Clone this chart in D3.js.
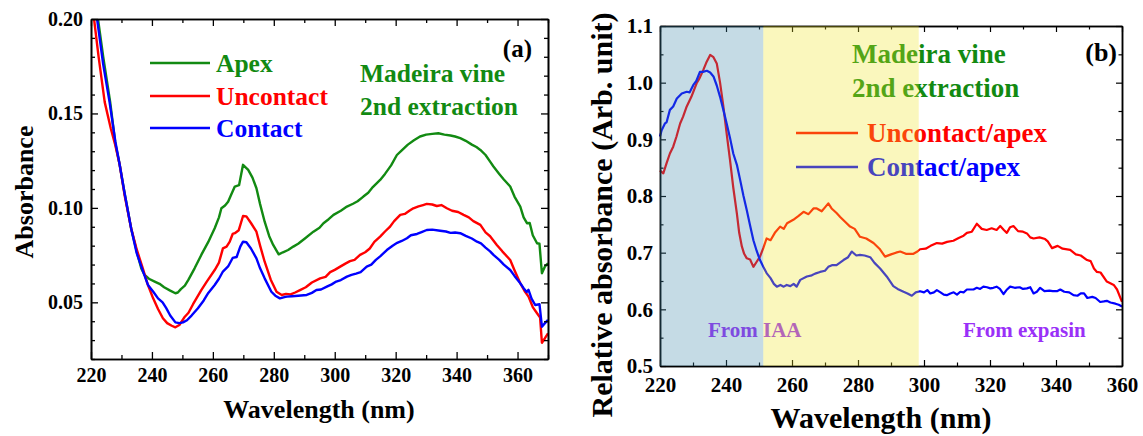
<!DOCTYPE html>
<html><head><meta charset="utf-8">
<script src="https://cdn.jsdelivr.net/npm/d3@7"></script>
<style>
html,body{margin:0;padding:0;background:#fff;}
svg text{font-family:"Liberation Serif","Times New Roman",serif;font-weight:bold;}
</style></head>
<body><svg id="chart" width="1143" height="436"></svg>
<script>
// ---------- DATA ----------
// Panel (a): absorbance spectra [wavelength nm, absorbance]
const apex = [[220,0.225],[222.3,0.2],[224,0.18],[226.3,0.156],[228,0.134],[229.4,0.123],[231,0.108],[233.2,0.089],[235,0.077],[236.5,0.068],[237.6,0.0645],[239,0.0625],[240.9,0.061],[242.5,0.0598],[244,0.058],[246,0.0562],[247.7,0.0548],[248.5,0.0552],[249.5,0.057],[250.8,0.0588],[252,0.062],[254,0.068],[256.2,0.0751],[258.5,0.082],[260.6,0.0892],[262,0.095],[262.8,0.0998],[264,0.1013],[265,0.1033],[266,0.107],[267.2,0.1113],[268.6,0.112],[269.9,0.1228],[271.6,0.1201],[273,0.116],[274.3,0.1104],[275.5,0.102],[277,0.0927],[278.5,0.085],[279.8,0.0804],[281.6,0.0754],[283,0.0765],[284.7,0.0777],[286.4,0.0795],[288,0.081],[290,0.0835],[293,0.0874],[295,0.0895],[296.3,0.0919],[298,0.094],[299.6,0.0963],[302,0.0985],[304,0.1007],[306,0.1022],[307.5,0.1035],[309.4,0.106],[311,0.108],[312.5,0.111],[314.9,0.1148],[316.5,0.118],[318.5,0.1225],[320.4,0.128],[322,0.1305],[324,0.1335],[326,0.1358],[328,0.1378],[330,0.1388],[332,0.1392],[334,0.1395],[336,0.1388],[338,0.1383],[339.5,0.1378],[341.2,0.1369],[343,0.1355],[345,0.1335],[346.5,0.1322],[347.8,0.1307],[349.5,0.128],[351,0.1245],[352.1,0.1219],[354,0.118],[355.5,0.115],[357.6,0.1113],[359,0.106],[360.9,0.1007],[362,0.095],[363.1,0.0919],[364,0.092],[365,0.0855],[366.4,0.0813],[367.2,0.081],[368,0.0654],[369,0.069],[370,0.0707]];
const uncontact = [[220,0.215],[221,0.2],[222.5,0.18],[224.5,0.156],[226.5,0.142],[228,0.133],[229.4,0.123],[231,0.107],[233.2,0.089],[235,0.078],[237,0.068],[238.5,0.06],[240.4,0.0521],[242,0.0465],[243.6,0.0416],[245,0.039],[246.5,0.0376],[247.7,0.0368],[249,0.038],[250.8,0.0424],[252,0.0445],[253.5,0.049],[256.2,0.0565],[258,0.061],[260.6,0.0671],[262,0.071],[263.3,0.0786],[264.5,0.0795],[265.5,0.082],[266.5,0.0862],[267.2,0.0866],[268.5,0.0882],[269.9,0.0957],[271,0.0955],[272.5,0.092],[274.3,0.0874],[275.5,0.08],[277,0.0715],[279,0.062],[280.9,0.0556],[282.6,0.0539],[284,0.0545],[285.5,0.0542],[287,0.0552],[288.6,0.0565],[290.5,0.058],[292.5,0.0605],[295.2,0.0627],[297,0.0635],[298.5,0.066],[300,0.0672],[301.8,0.0689],[303.5,0.0705],[305,0.0718],[306.5,0.0725],[308.3,0.0751],[310,0.0765],[311.5,0.0785],[313,0.082],[314.9,0.0848],[316.5,0.0875],[318,0.0898],[319.5,0.093],[321.5,0.0963],[323,0.0968],[324.5,0.0985],[325.8,0.0998],[327.5,0.1008],[329,0.1015],[330.2,0.1021],[332,0.1018],[333.5,0.101],[335,0.1015],[336.8,0.0998],[338.5,0.0985],[340.5,0.0978],[342.3,0.0963],[344,0.095],[345.5,0.093],[347.8,0.091],[349.5,0.087],[351,0.085],[353.2,0.0804],[355,0.077],[357.6,0.0724],[359,0.067],[360.9,0.0601],[362.3,0.056],[363.6,0.053],[365,0.0475],[366.4,0.0442],[367.4,0.042],[368,0.0286],[369,0.031],[370,0.0336]];
const contact = [[220,0.22],[222,0.2],[224,0.176],[226.1,0.156],[228,0.135],[229.4,0.123],[231,0.108],[233.2,0.089],[235,0.076],[237.1,0.0663],[238.7,0.0592],[240.5,0.0555],[242,0.0521],[243.5,0.05],[244.7,0.0469],[246,0.043],[247.7,0.0394],[249,0.039],[250.2,0.0394],[251.5,0.0405],[253,0.043],[255.1,0.0469],[257,0.051],[258.5,0.055],[260.6,0.0592],[262,0.0625],[263.3,0.0663],[265,0.069],[266.5,0.0735],[267.8,0.074],[269,0.0795],[269.9,0.0821],[271,0.0818],[272.5,0.0785],[274.3,0.0733],[275.5,0.068],[277,0.0627],[279.2,0.0556],[280.5,0.0535],[282,0.0521],[283.5,0.0528],[284.3,0.053],[286,0.0532],[288,0.0535],[290.8,0.0539],[292.5,0.055],[294,0.0565],[295.5,0.0568],[297.4,0.0583],[299,0.0595],[300.5,0.061],[302,0.0618],[304,0.0636],[305.5,0.0645],[307,0.0652],[308.5,0.066],[310.5,0.0689],[312,0.07],[313.5,0.0725],[315,0.0745],[317.1,0.0777],[319,0.08],[320.5,0.0815],[322,0.0825],[323.7,0.0839],[325,0.0855],[327,0.0862],[328.5,0.0872],[330.2,0.0883],[332,0.0885],[334.6,0.0879],[336.5,0.0875],[338,0.0868],[339.5,0.087],[341.2,0.0866],[343,0.0852],[345,0.0838],[346.7,0.0821],[348,0.0812],[349.5,0.079],[351,0.077],[352.1,0.0751],[354,0.0725],[355.5,0.07],[357.6,0.0671],[359,0.064],[360.9,0.0601],[362,0.0575],[363,0.0555],[363.6,0.0566],[364.6,0.052],[365.8,0.0486],[367.2,0.049],[368,0.0371],[369,0.039],[370,0.0407]];

// Panel (b): relative absorbance [wavelength nm, ratio]
const uncontactRatio = [[220,0.845],[221,0.84],[222,0.858],[223,0.875],[224,0.887],[225,0.905],[226.1,0.928],[227,0.94],[228.1,0.958],[229.5,0.975],[231.1,0.999],[232,1.008],[233.1,1.022],[234,1.035],[235.2,1.049],[236.2,1.045],[237.2,1.034],[238.2,1.0],[239.2,0.958],[240.2,0.91],[241.2,0.864],[242.2,0.815],[243.3,0.769],[244,0.735],[244.8,0.711],[245.5,0.698],[246.3,0.69],[247.3,0.688],[248.3,0.675],[249.3,0.684],[250.3,0.693],[251.3,0.708],[252.3,0.725],[253.5,0.722],[254.8,0.735],[256.4,0.746],[257.5,0.742],[258.5,0.752],[260.4,0.758],[262,0.765],[263.5,0.772],[265,0.768],[266.5,0.778],[267.5,0.778],[269,0.773],[270,0.78],[271,0.787],[272,0.778],[273.5,0.77],[274.6,0.763],[276,0.755],[277.6,0.746],[279,0.742],[280.6,0.728],[282.5,0.725],[284.7,0.717],[286.5,0.707],[288.2,0.693],[290,0.697],[291.5,0.7],[292.8,0.702],[294.5,0.698],[296.8,0.698],[298,0.702],[298.8,0.706],[300.5,0.707],[302,0.712],[303.9,0.717],[305.5,0.716],[307,0.719],[308.9,0.721],[310.5,0.726],[312,0.73],[313,0.735],[314.5,0.737],[316,0.751],[317.5,0.742],[319,0.74],[320.5,0.743],[322,0.74],[323.1,0.747],[324.2,0.74],[325.1,0.735],[326.1,0.745],[327.1,0.747],[328.5,0.738],[330,0.737],[331.2,0.734],[332.2,0.727],[333.2,0.725],[335,0.727],[336.7,0.724],[337.5,0.72],[338.8,0.708],[340.5,0.712],[342,0.707],[344.3,0.705],[346,0.697],[347.5,0.695],[349.4,0.687],[350.5,0.685],[351.5,0.672],[352.4,0.666],[353.5,0.665],[355.4,0.649],[357.5,0.643],[358.5,0.635],[360,0.613]];
const contactRatio = [[220,0.905],[220.5,0.916],[221.5,0.928],[222,0.93],[223,0.952],[224,0.958],[225.1,0.972],[226.6,0.981],[228.1,0.984],[229,0.983],[230.1,0.996],[231,1.003],[232.1,1.019],[233,1.019],[234.2,1.021],[235.2,1.018],[236.2,1.011],[237.2,0.995],[238.2,0.975],[239.2,0.952],[240.2,0.928],[241.2,0.903],[242.2,0.875],[243.3,0.855],[244.3,0.828],[245.3,0.8],[246.3,0.775],[247.3,0.748],[248.3,0.722],[249.3,0.703],[250.3,0.687],[251.3,0.675],[252.3,0.664],[253.5,0.655],[254.5,0.645],[255.4,0.64],[256.5,0.643],[257.5,0.64],[258.4,0.643],[259.5,0.641],[260.5,0.645],[261.4,0.64],[262.5,0.652],[264.5,0.658],[266,0.66],[267,0.663],[268.5,0.666],[270,0.668],[271,0.675],[272.1,0.678],[273.5,0.678],[275.6,0.687],[277,0.692],[278.1,0.702],[279.5,0.695],[280.6,0.696],[282,0.695],[283.7,0.692],[285,0.682],[286.7,0.672],[288.7,0.658],[290.7,0.641],[292,0.636],[293.8,0.631],[295,0.628],[296.3,0.624],[297.5,0.63],[298.8,0.632],[300,0.63],[301,0.634],[301.9,0.628],[303,0.63],[303.9,0.634],[305,0.63],[306,0.626],[306.9,0.625],[308,0.628],[309,0.63],[310,0.626],[311,0.631],[312,0.63],[313,0.635],[315,0.635],[316,0.638],[317,0.636],[318,0.64],[319.1,0.639],[320.1,0.637],[321,0.638],[322,0.64],[323,0.636],[324.1,0.627],[325,0.634],[326.1,0.64],[327.5,0.638],[329,0.639],[330,0.636],[331.2,0.637],[332.2,0.639],[333.2,0.628],[334.2,0.631],[335.2,0.638],[336.5,0.632],[338,0.633],[339,0.632],[340.3,0.632],[341.3,0.635],[342.5,0.631],[344,0.63],[345.3,0.625],[346.5,0.624],[347.5,0.628],[348.5,0.628],[349.5,0.62],[351,0.622],[352,0.62],[353.4,0.613],[354.5,0.614],[355.4,0.615],[356.5,0.612],[358,0.61],[359,0.608],[360,0.605]];

// shaded wavelength bands in panel (b)
const bandIAA = [220, 251.3];
const bandExpansin = [251.3, 298.4];

// tick values
const aXMajor = [220,240,260,280,300,320,340,360];
const aXMinor = [230,250,270,290,310,330,350,370];
const aYMajor = [0.05,0.10,0.15,0.20];
const aYMinor = [0.02,0.03,0.04,0.06,0.07,0.08,0.09,0.11,0.12,0.13,0.14,0.16,0.17,0.18,0.19];
const bXMajor = [220,240,260,280,300,320,340,360];
const bXMinor = [230,250,270,290,310,330,350];
const bYMajor = [0.5,0.6,0.7,0.8,0.9,1.0,1.1];
const bYMinor = [0.55,0.65,0.75,0.85,0.95,1.05];

// ---------- DRAW ----------
const GREEN = "#128a12", RED = "#ff0000", BLUE = "#0000ff";
const svg = d3.select("#chart");

const xa = d3.scaleLinear().domain([220,370]).range([91,548]);
const ya = d3.scaleLinear().domain([0.02,0.20]).range([359,19]);
const xb = d3.scaleLinear().domain([220,360]).range([660,1122]);
const yb = d3.scaleLinear().domain([0.5,1.1]).range([366,26]);

function frame(g, x, y, o){
  const [x0,x1] = x.range(), [y0,y1] = y.range();
  const styleAxis = sel => { sel.selectAll("path.domain").attr("stroke","#000").attr("stroke-width",o.sw);
    sel.selectAll(".tick line").attr("stroke","#000").attr("stroke-width",o.tw); };
  // bottom
  g.append("g").attr("transform",`translate(0,${y0})`).call(d3.axisBottom(x).tickValues(o.xMinor).tickSizeInner(-o.minor).tickSizeOuter(0).tickFormat("")).call(styleAxis);
  const bx = g.append("g").attr("transform",`translate(0,${y0})`).call(d3.axisBottom(x).tickValues(o.xMajor).tickSizeInner(-o.major).tickSizeOuter(0).tickPadding(o.xPad).tickFormat(d3.format("d"))).call(styleAxis);
  bx.selectAll("text").attr("font-size",o.fs).attr("fill","#000").attr("font-family",null);
  // top
  g.append("g").attr("transform",`translate(0,${y1})`).call(d3.axisTop(x).tickValues(o.xMinor).tickSizeInner(-o.minor).tickSizeOuter(0).tickFormat("")).call(styleAxis);
  g.append("g").attr("transform",`translate(0,${y1})`).call(d3.axisTop(x).tickValues(o.xMajor).tickSizeInner(-o.major).tickSizeOuter(0).tickFormat("")).call(styleAxis);
  // left
  g.append("g").attr("transform",`translate(${x0},0)`).call(d3.axisLeft(y).tickValues(o.yMinor).tickSizeInner(-o.minor).tickSizeOuter(0).tickFormat("")).call(styleAxis);
  const ly = g.append("g").attr("transform",`translate(${x0},0)`).call(d3.axisLeft(y).tickValues(o.yMajor).tickSizeInner(-o.major).tickSizeOuter(0).tickPadding(o.yPad).tickFormat(d3.format(o.yFmt))).call(styleAxis);
  ly.selectAll("text").attr("font-size",o.fs).attr("fill","#000").attr("font-family",null);
  // right
  g.append("g").attr("transform",`translate(${x1},0)`).call(d3.axisRight(y).tickValues(o.yMinor).tickSizeInner(-o.minor).tickSizeOuter(0).tickFormat("")).call(styleAxis);
  g.append("g").attr("transform",`translate(${x1},0)`).call(d3.axisRight(y).tickValues(o.yMajor).tickSizeInner(-o.major).tickSizeOuter(0).tickFormat("")).call(styleAxis);
}

// ===== Panel (a) =====
const ga = svg.append("g");
ga.append("clipPath").attr("id","clipA").append("rect")
  .attr("x",xa(220)).attr("y",ya(0.20)).attr("width",xa(370)-xa(220)).attr("height",ya(0.02)-ya(0.20));
const lineA = d3.line().x(d=>xa(d[0])).y(d=>ya(d[1]));
[[apex,GREEN],[uncontact,RED],[contact,BLUE]].forEach(([data,c])=>{
  ga.append("path").datum(data).attr("d",lineA).attr("fill","none").attr("stroke",c)
    .attr("stroke-width",2.4).attr("stroke-linejoin","round").attr("clip-path","url(#clipA)");
});
frame(ga, xa, ya, {xMajor:aXMajor,xMinor:aXMinor,yMajor:aYMajor,yMinor:aYMinor,major:7,minor:4,sw:1.6,tw:1.3,fs:"20px",xPad:9,yPad:8,yFmt:".2f"});

// legend (a)
[["Apex",GREEN,63],["Uncontact",RED,96],["Contact",BLUE,128]].forEach(([t,c,yy])=>{
  ga.append("line").attr("x1",150).attr("x2",210).attr("y1",yy).attr("y2",yy).attr("stroke",c).attr("stroke-width",2.6);
  ga.append("text").attr("x",216).attr("y",yy+8.5).attr("fill",c).attr("font-size","25.5px").text(t);
});
ga.append("text").attr("x",360).attr("y",81.5).attr("fill",GREEN).attr("font-size","25.5px").text("Madeira vine");
ga.append("text").attr("x",360).attr("y",115).attr("fill",GREEN).attr("font-size","25.5px").text("2nd extraction");
ga.append("text").attr("x",532).attr("y",56.5).attr("text-anchor","end").attr("fill","#000").attr("font-size","25px").text("(a)");
ga.append("text").attr("transform","translate(33,192) rotate(-90)").attr("text-anchor","middle").attr("font-size","26px").attr("fill","#000").text("Absorbance");
ga.append("text").attr("x",319).attr("y",418).attr("text-anchor","middle").attr("font-size","26px").attr("fill","#000").text("Wavelength (nm)");

// ===== Panel (b) =====
const gb = svg.append("g");
const lineB = d3.line().x(d=>xb(d[0])).y(d=>yb(d[1]));
[[uncontactRatio,RED],[contactRatio,BLUE]].forEach(([data,c])=>{
  gb.append("path").datum(data).attr("d",lineB).attr("fill","none").attr("stroke",c)
    .attr("stroke-width",2.2).attr("stroke-linejoin","round");
});
frame(gb, xb, yb, {xMajor:bXMajor,xMinor:bXMinor,yMajor:bYMajor,yMinor:bYMinor,major:6,minor:3.5,sw:1.5,tw:1.2,fs:"21px",xPad:11,yPad:7,yFmt:".1f"});

gb.append("text").attr("x",852).attr("y",63).attr("fill",GREEN).attr("font-size","27px").text("Madeira vine");
gb.append("text").attr("x",852).attr("y",97).attr("fill",GREEN).attr("font-size","27px").text("2nd extraction");
gb.append("text").attr("x",1117).attr("y",61).attr("text-anchor","end").attr("fill","#000").attr("font-size","26px").text("(b)");
[["Uncontact/apex",RED,133],["Contact/apex",BLUE,167]].forEach(([t,c,yy])=>{
  gb.append("line").attr("x1",796).attr("x2",858).attr("y1",yy).attr("y2",yy).attr("stroke",c).attr("stroke-width",2.4);
  gb.append("text").attr("x",867).attr("y",yy+9).attr("fill",c).attr("font-size","27px").text(t);
});
gb.append("text").attr("x",708).attr("y",337).attr("fill","#9a30f8").attr("font-size","21px").text("From IAA");
gb.append("text").attr("x",963).attr("y",337).attr("fill","#9a30f8").attr("font-size","21px").text("From expasin");

// translucent shaded bands over the plot
gb.append("rect").attr("x",xb(bandIAA[0])).attr("y",yb(1.1)).attr("width",xb(bandIAA[1])-xb(bandIAA[0])).attr("height",yb(0.5)-yb(1.1))
  .attr("fill","rgb(62,135,168)").attr("fill-opacity",0.3);
gb.append("rect").attr("x",xb(bandExpansin[0])).attr("y",yb(1.1)).attr("width",xb(bandExpansin[1])-xb(bandExpansin[0])).attr("height",yb(0.5)-yb(1.1))
  .attr("fill","rgb(238,228,38)").attr("fill-opacity",0.3);

gb.append("text").attr("transform","translate(612,215) rotate(-90)").attr("text-anchor","middle").attr("font-size","30px").attr("fill","#000").text("Relative absorbance (Arb. unit)");
gb.append("text").attr("x",881).attr("y",428).attr("text-anchor","middle").attr("font-size","30px").attr("fill","#000").text("Wavelength (nm)");
</script>
</body></html>
